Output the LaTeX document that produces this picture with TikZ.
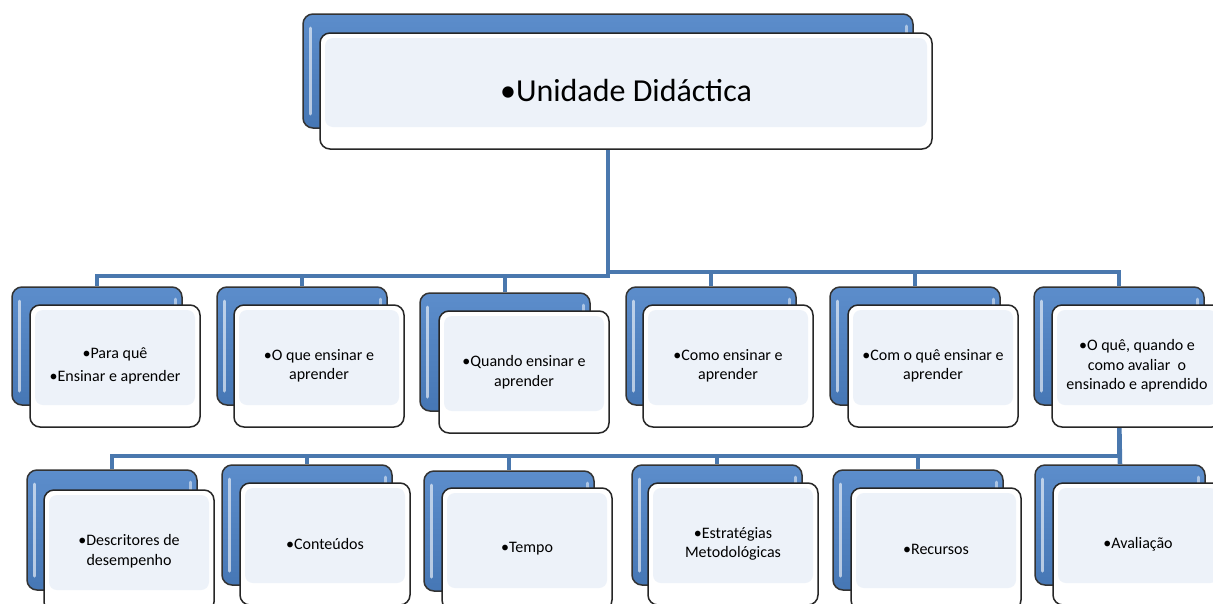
\documentclass[tikz,border=0pt]{standalone}
\usepackage{fontspec}
\setmainfont{Carlito}
\definecolor{blueA}{HTML}{5C8DCB}
\definecolor{blueB}{HTML}{4677B5}
\definecolor{panel}{HTML}{EDF2F9}
\definecolor{connC}{HTML}{4A78AE}
\tikzset{
  backbox/.style={draw=black!80, line width=1.5pt, rounded corners=10pt,
    top color=blueA, bottom color=blueB, inner sep=0pt,
    minimum width=170pt, minimum height=118pt,
    path picture={
      \draw[white, opacity=0.6, line width=3pt, line cap=round]
        ([shift={(7pt,-14pt)}]path picture bounding box.north west) --
        ([shift={(7pt,14pt)}]path picture bounding box.south west);
      \draw[white, opacity=0.5, line width=3pt, line cap=round]
        ([shift={(-7pt,-12pt)}]path picture bounding box.north east) -- ++(0,-8pt);
    }},
  frontbox/.style={draw=black!85, line width=1.5pt, rounded corners=10pt,
    fill=white, inner sep=2pt, align=center,
    minimum width=170pt, minimum height=122pt,
    font=\fontsize{16}{19.5}\selectfont,
    path picture={
      \fill[panel, rounded corners=8pt]
        ([shift={(5pt,-5pt)}]path picture bounding box.north west) rectangle
        ([shift={(-5pt,22pt)}]path picture bounding box.south east);
    }},
  conn/.style={draw=connC, line width=4.5pt},
}
\begin{document}
\begin{tikzpicture}[x=1pt, y=-1pt]
\useasboundingbox (0,0) rectangle (1213,603);
\clip (0,0) rectangle (1213,603);

% root
\node[backbox, minimum width=610pt, minimum height=114pt] (rb) at (608,71) {};
% row 2 back boxes
\node[backbox] (b1) at (97,346) {};
\node[backbox] (b2) at (302,346) {};
\node[backbox] (b3) at (505,352) {};
\node[backbox] (b4) at (711,346) {};
\node[backbox] (b5) at (915,346) {};
\node[backbox] (b6) at (1119,346) {};
% row 3 back boxes
\node[backbox, minimum height=120pt] (b7) at (112,530) {};
\node[backbox, minimum height=120pt] (b8) at (307,525) {};
\node[backbox, minimum height=120pt] (b9) at (509,531) {};
\node[backbox, minimum height=120pt] (b10) at (717,525) {};
\node[backbox, minimum height=120pt] (b11) at (918,530) {};
\node[backbox, minimum height=120pt] (b12) at (1120,525) {};

% connectors (behind front boxes)
\draw[conn] (rb.south) -- ++(0,147) -| (b1.north);
\draw[conn] (rb.south) -- ++(0,147) -| (b2.north);
\draw[conn] (rb.south) -- ++(0,147) -| (b3.north);
\draw[conn] (rb.south) -- ++(0,143) -| (b4.north);
\draw[conn] (rb.south) -- ++(0,143) -| (b5.north);
\draw[conn] (rb.south) -- ++(0,143) -| (b6.north);
\draw[conn] (b6.south) -- ++(0,50) -| (b7.north);
\draw[conn] (b6.south) -- ++(0,50) -| (b8.north);
\draw[conn] (b6.south) -- ++(0,50) -| (b9.north);
\draw[conn] (b6.south) -- ++(0,50) -| (b10.north);
\draw[conn] (b6.south) -- ++(0,50) -| (b11.north);
\draw[conn] (b6.south) -- (b12.north);

% front boxes
\node[frontbox, minimum width=612pt, minimum height=116pt,
      font=\fontsize{32}{38}\selectfont] (rf) at (626,91) {\textbullet Unidade Didáctica};

\node[frontbox] (f1) at (115,366) {\textbullet Para quê\\[3pt]\textbullet Ensinar e aprender};
\node[frontbox] (f2) at (319,366) {\textbullet O que ensinar e\\aprender};
\node[frontbox] (f3) at (524,372) {\textbullet Quando ensinar e\\aprender};
\node[frontbox] (f4) at (728,366) {\textbullet Como ensinar e\\aprender};
\node[frontbox] (f5) at (933,366) {\textbullet Com o quê ensinar e\\aprender};
\node[frontbox] (f6) at (1137,366) {\textbullet O quê, quando e\\como avaliar\ \ o\\ensinado e aprendido};

\node[frontbox] (f7) at (129,551) {\textbullet Descritores de\\desempenho};
\node[frontbox] (f8) at (325,544) {\textbullet Conteúdos};
\node[frontbox] (f9) at (527,549) {\textbullet Tempo};
\node[frontbox] (f10) at (733,544) {\textbullet Estratégias\\Metodológicas};
\node[frontbox] (f11) at (936,549) {\textbullet Recursos};
\node[frontbox] (f12) at (1138,544) {\textbullet Avaliação};
\end{tikzpicture}
\end{document}
